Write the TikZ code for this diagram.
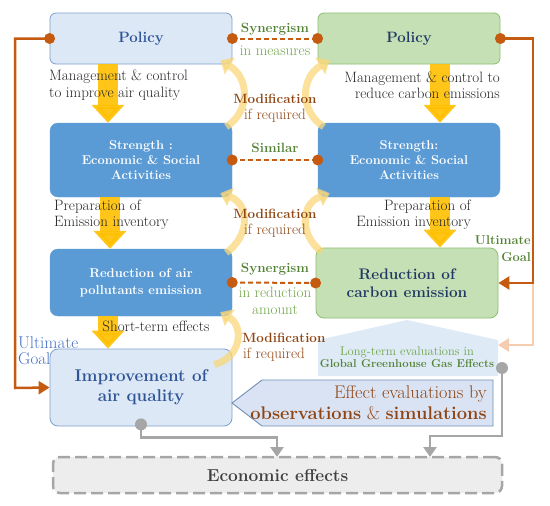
\documentclass[tikz,border=0pt]{standalone}
\usepackage{fontspec}
\usetikzlibrary{arrows.meta,calc}
\definecolor{lbfill}{HTML}{DCE8F6}
\definecolor{lbdraw}{HTML}{7F9FCF}
\definecolor{bbfill}{HTML}{5B9BD5}
\definecolor{gfill}{HTML}{C5E0B4}
\definecolor{gdraw}{HTML}{8CBF6F}
\definecolor{navy}{HTML}{203864}
\definecolor{bluetxt}{HTML}{2F5597}
\definecolor{ultblue}{HTML}{4472C4}
\definecolor{orng}{HTML}{C55A11}
\definecolor{peach}{HTML}{F6CDB0}
\definecolor{gold}{HTML}{FFC000}
\definecolor{curvc}{HTML}{F9D77A}
\definecolor{grntxt}{HTML}{548235}
\definecolor{grnlt}{HTML}{6FA447}
\definecolor{brown}{HTML}{8E4513}
\definecolor{grayc}{HTML}{A6A6A6}
\definecolor{ecofill}{HTML}{EDEDED}
\definecolor{ecotxt}{HTML}{404040}
\definecolor{ltfill}{HTML}{DEEBF7}
\definecolor{effill}{HTML}{DAE3F3}
\definecolor{efdraw}{HTML}{6F8FB8}
\begin{document}
\begin{tikzpicture}[x=1pt,y=-1pt,
  box/.style={rounded corners=6pt, minimum width=182pt, inner sep=0pt, align=center},
  lbbox/.style={box, fill=lbfill, draw=lbdraw, line width=0.8pt},
  bbbox/.style={box, fill=bbfill, draw=bbfill, text=white, font=\bfseries\fontsize{12.8}{15}\selectfont},
  gbox/.style={box, fill=gfill, draw=gdraw, line width=0.8pt, text=navy},
  dot/.style={circle, fill=orng, minimum size=11pt, inner sep=0pt},
  gdot/.style={circle, fill=grayc, minimum size=12pt, inner sep=0pt},
  orline/.style={draw=orng, line width=2.5pt},
  peachline/.style={draw=peach, line width=2.5pt},
  dashl/.style={draw=orng, line width=2pt, dash pattern=on 5pt off 3pt},
  grline/.style={draw=grayc, line width=2.5pt, -{Triangle[length=10pt,width=13pt]}},
  ortip/.style={-{Triangle[length=11pt,width=13pt]}},
  ylarrow/.style={draw=gold, opacity=0.9, line width=20pt, -{Triangle[length=18pt,width=32pt]}},
  curv/.style={draw=curvc, opacity=0.75, line width=7pt, -{Triangle[length=11pt,width=19pt]}},
  txt/.style={inner sep=0pt, font=\fontsize{15}{16.5}\selectfont, text=black!85},
  grnb/.style={inner sep=0pt, font=\bfseries\fontsize{13.4}{16}\selectfont, text=grntxt},
  grnn/.style={inner sep=0pt, font=\fontsize{15}{16}\selectfont, text=grnlt},
  modb/.style={inner sep=0pt, font=\bfseries\fontsize{13.4}{16}\selectfont, text=brown},
  modn/.style={inner sep=0pt, font=\fontsize{15}{16}\selectfont, text=brown}
]
\useasboundingbox (0,0) rectangle (550,506);

% boxes
\node[lbbox, minimum height=51pt, text=bluetxt, font=\bfseries\fontsize{15}{17}\selectfont] (PolL) at (141,38.5) {Policy};
\node[gbox, minimum height=51pt, font=\bfseries\fontsize{15}{17}\selectfont] (PolR) at (409,38.5) {Policy};
\node[bbbox, minimum height=74pt, rounded corners=8pt] (StrL) at (141,160) {Strength :\\Economic \& Social\\Activities};
\node[bbbox, minimum height=74pt, rounded corners=8pt] (StrR) at (409,160) {Strength:\\Economic \& Social\\Activities};
\node[bbbox, minimum height=67pt, rounded corners=8pt, font=\bfseries\fontsize{12.9}{17}\selectfont] (RedL) at (141,282.5) {Reduction of air\\pollutants emission};
\node[gbox, minimum height=70pt, rounded corners=8pt, font=\bfseries\fontsize{15.3}{18}\selectfont] (RedR) at (407,283) {Reduction of\\carbon emission};
\node[lbbox, minimum height=77pt, rounded corners=8pt, text=bluetxt, font=\bfseries\fontsize{17}{20}\selectfont] (Imp) at (141,387.5) {Improvement of\\air quality};

% long-term pentagon
\fill[ltfill] (318,340) -- (407,320) -- (498,340) -- (498,376) -- (318,376) -- cycle;
\node[inner sep=0pt, align=center, text=grntxt] (LT) at (407,357.5)
  {{\fontsize{12.5}{16}\selectfont\color{grnlt}Long-term evaluations in}\\[0pt]{\bfseries\fontsize{11.4}{16}\selectfont Global Greenhouse Gas Effects}};
\coordinate (ltr) at (498,345);

% effect evaluations arrow box
\draw[fill=effill, draw=efdraw, line width=0.9pt] (232,403) -- (262,380) -- (493,380) -- (493,426) -- (262,426) -- cycle;
\node[inner sep=0pt, align=right, text=brown, font=\fontsize{18.3}{21}\selectfont, anchor=east] (EF) at (487,403)
  {Effect evaluations by\\\textbf{observations} \& \textbf{simulations}};

% economic effects
\node[box, minimum width=449pt, minimum height=36pt, rounded corners=7pt, fill=ecofill, draw=grayc, line width=2.5pt, dash pattern=on 12pt off 5pt, text=ecotxt, font=\bfseries\fontsize{17.3}{20}\selectfont] (Eco) at (277.5,475) {Economic effects};
\coordinate (ecoA) at (277,457);
\coordinate (ecoB) at (430,457);

% orange connectors
\coordinate (lc) at (15,388);
\coordinate (rc) at (533,283);
\draw[peachline, ortip] (rc) |- (ltr);
\draw[orline, ortip] (PolL.west) -| (lc) -- (Imp.west);
\draw[orline, ortip] (PolR.east) -| (rc) -- (RedR.east);
\draw[dashl] (PolL.east) -- (PolR.west);
\draw[dashl] (StrL.east) -- (StrR.west);
\draw[dashl] (RedL.east) -- (RedR.west);
\node[dot] (d1) at (PolL.west) {};
\node[dot] (d2) at (PolL.east) {};
\node[dot] (d3) at (PolR.west) {};
\node[dot] (d4) at (PolR.east) {};
\node[dot] (d5) at (StrL.east) {};
\node[dot] (d6) at (StrR.west) {};
\node[dot] (d7) at (RedL.east) {};
\node[dot] (d8) at (RedR.west) {};

% gray connectors
\node[gdot] (g2) at (502,368) {};
\draw[grline] (Imp.south) -- ++(0,11) -| (ecoA);
\draw[grline] (g2.center) -- ++(0,68) -| (ecoB);
\node[gdot] (g1) at ($(Imp.south)+(0,-2)$) {};

% curved modification arrows
\draw[curv] ($(StrL.north east)+(-6,4)$) .. controls (250,112) and (250,78) .. ($(PolL.south east)+(-12,-4)$);
\draw[curv] ($(StrR.north west)+(6,4)$) .. controls (300,112) and (300,78) .. ($(PolR.south west)+(12,-4)$);
\draw[curv] ($(RedL.north east)+(-6,4)$) .. controls (250,236) and (250,204) .. ($(StrL.south east)+(-12,-4)$);
\draw[curv] ($(RedR.north west)+(6,4)$) .. controls (300,236) and (300,204) .. ($(StrR.south west)+(12,-4)$);
\draw[curv] ($(Imp.north east)+(-18,16)$) .. controls (242,357) and (244,326) .. ($(RedL.south east)+(-12,-4)$);

% yellow block arrows
\draw[ylarrow] ($(PolL.south)+(-33,0)$) -- ($(StrL.north)+(-33,0)$);
\draw[ylarrow] ($(PolR.south)+(31,0)$) -- ($(StrR.north)+(31,0)$);
\draw[ylarrow] ($(StrL.south)+(-31,0)$) -- ($(RedL.north)+(-31,0)$);
\draw[ylarrow] ($(StrR.south)+(31,0)$) -- ($(RedR.north)+(33,0)$);
\draw[ylarrow] ($(RedL.south)+(-33,0)$) -- ($(Imp.north)+(-33,0)$);

% labels
\node[txt, anchor=west, align=left] (m1) at (49,85) {Management \& control\\to improve air quality};
\node[txt, anchor=east, align=right] (m2) at (500,85) {Management \& control to\\reduce carbon emissions};
\node[txt, anchor=west, align=left] (p1) at (54,215) {Preparation of\\Emission inventory};
\node[txt, anchor=east, align=right] (p2) at (471,215) {Preparation of\\Emission inventory};
\node[txt] (st) at (156,326) {Short-term effects};

\node[grnb] (s1) at (275,29) {Synergism};
\node[grnn] (s2) at (275,51) {in measures};
\node[grnb] (s3) at (275,148) {Similar};
\node[grnb] (s4) at (275,269) {Synergism};
\node[grnn, align=center, font=\fontsize{15}{16.5}\selectfont] (s5) at (275,301) {in reduction\\amount};

\node[modb] (md1) at (275,99) {Modification};
\node[modn] (md2) at (275,116) {if required};
\node[modb] (md3) at (275,214) {Modification};
\node[modn] (md4) at (275,231) {if required};
\node[modb, anchor=west] (md5) at (242,338) {Modification};
\node[modn, anchor=west] (md6) at (243,355) {if required};

\node[inner sep=0pt, align=right, anchor=east, text=grntxt, font=\bfseries\fontsize{12.8}{17}\selectfont] (u1) at (531,248.5) {Ultimate\\Goal};
\node[inner sep=0pt, align=left, anchor=west, text=ultblue, font=\fontsize{17}{16}\selectfont] (u2) at (18,351) {Ultimate\\Goal};
\end{tikzpicture}
\end{document}
